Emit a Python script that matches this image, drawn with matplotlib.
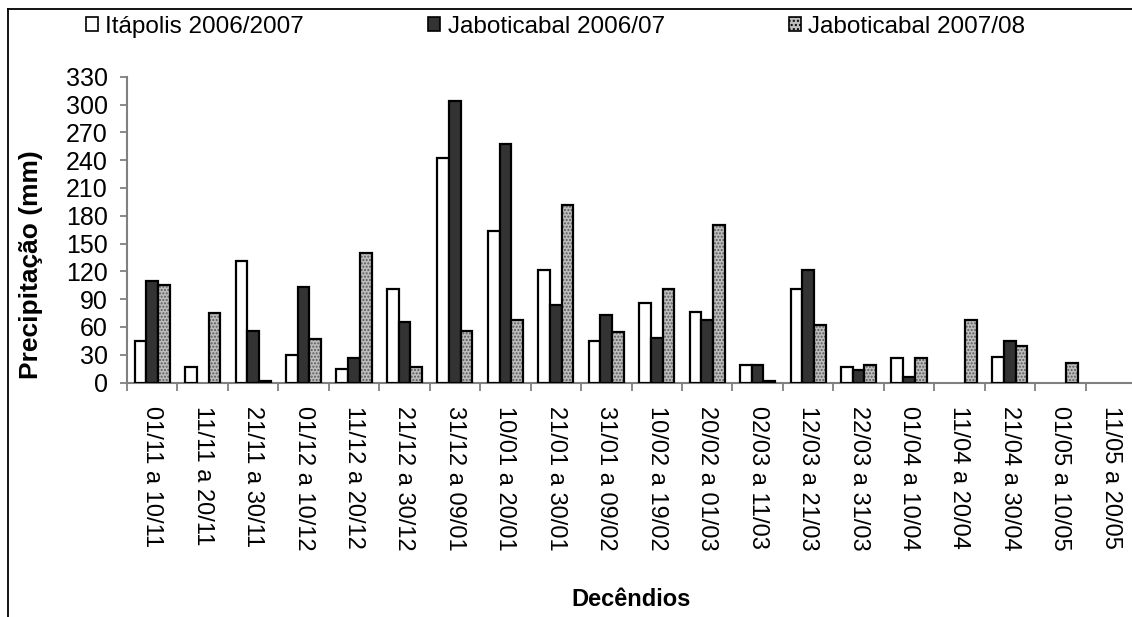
import matplotlib.pyplot as plt
import matplotlib.patches as mpatches
from matplotlib.lines import Line2D
import numpy as np

plt.rcParams['font.family'] = ['Liberation Sans', 'DejaVu Sans']

# decêndios (períodos de 10 dias)
decendios = ["01/11 a 10/11", "11/11 a 20/11", "21/11 a 30/11", "01/12 a 10/12",
             "11/12 a 20/12", "21/12 a 30/12", "31/12 a 09/01", "10/01 a 20/01",
             "21/01 a 30/01", "31/01 a 09/02", "10/02 a 19/02", "20/02 a 01/03",
             "02/03 a 11/03", "12/03 a 21/03", "22/03 a 31/03", "01/04 a 10/04",
             "11/04 a 20/04", "21/04 a 30/04", "01/05 a 10/05", "11/05 a 20/05"]

# precipitação (mm); 0 = sem registro
itapolis_0607 = [45, 17, 131, 30, 15, 101, 242, 164, 121, 45,
                 86, 76, 19, 101, 17, 26, 0, 28, 0, 0]
jabot_0607 = [110, 0, 56, 103, 26, 65, 304, 257, 84, 73,
              48, 67, 19, 121, 13, 6, 0, 45, 0, 0]
jabot_0708 = [105, 75, 2, 47, 140, 17, 56, 67, 192, 54,
              101, 170, 2, 62, 19, 26, 67, 39, 21, 0]

x = np.arange(len(decendios))
w = 0.232


def com_valor(serie):
    v = np.array(serie, dtype=float)
    ok = v > 0
    return x[ok], v[ok]


fig = plt.figure(figsize=(11.32, 6.17), dpi=100)
ax = fig.add_axes([127 / 1132, 1 - 382.5 / 617, (1136 - 127) / 1132, (382.5 - 76.7) / 617])

xi, vi = com_valor(itapolis_0607)
ax.bar(xi - w, vi, w, color='white', edgecolor='black', linewidth=1.6, zorder=3)
xj, vj = com_valor(jabot_0607)
ax.bar(xj, vj, w, color='#333333', edgecolor='black', linewidth=1.6, zorder=3)
# barras pontilhadas: primeiro o padrão, depois o contorno preto
xk, vk = com_valor(jabot_0708)
ax.bar(xk + w, vk, w, color='#bdbdbd', edgecolor='#5a5a5a', hatch='.....',
       linewidth=0, zorder=3)
ax.bar(xk + w, vk, w, fill=False, edgecolor='black', linewidth=1.6, zorder=4)

ax.set_xlim(-0.5, len(decendios) - 0.5)
ax.set_ylim(0, 330)
ax.set_yticks(np.arange(0, 331, 30))
ax.set_xticks(x)
ax.set_xticklabels(decendios, rotation=-90, va='top', ha='center')
ax.set_xticks(np.arange(-0.5, len(decendios), 1), minor=True)

for s in ['top', 'right']:
    ax.spines[s].set_visible(False)
for s in ['left', 'bottom']:
    ax.spines[s].set_color('#808080')
    ax.spines[s].set_linewidth(1.5)

ax.tick_params(axis='y', labelsize=18, length=5, width=1.3, color='#808080', pad=9)
ax.tick_params(axis='x', which='major', labelsize=17, length=0, pad=17)
ax.tick_params(axis='x', which='minor', length=6, width=1.3, color='#808080')

fig.text(31 / 1132, 1 - 265 / 617, 'Precipitação (mm)', rotation=90, fontsize=19,
         fontweight='bold', ha='center', va='center')
fig.text(631 / 1132, 1 - 599 / 617, 'Decêndios', fontsize=17, fontweight='bold',
         ha='center', va='center')

handles = [mpatches.Patch(facecolor='white', edgecolor='black', linewidth=1.2),
           mpatches.Patch(facecolor='#333333', edgecolor='black', linewidth=1.2),
           mpatches.Patch(facecolor='#bdbdbd', edgecolor='black', hatch='....', linewidth=1.2)]
labels = ['Itápolis 2006/2007', 'Jaboticabal 2006/07', 'Jaboticabal 2007/08']
fig.legend(handles, labels, ncol=3, frameon=False, fontsize=17.5,
           loc='center left', bbox_to_anchor=(86 / 1132, 1 - 27 / 617),
           handlelength=0.5, handleheight=0.5, handletextpad=0.3,
           columnspacing=5.1, borderaxespad=0, borderpad=0)

# moldura do gráfico (topo e lado esquerdo)
fig.add_artist(Line2D([8 / 1132, 1], [1 - 9 / 617, 1 - 9 / 617], color='black', lw=1.3))
fig.add_artist(Line2D([8 / 1132, 8 / 1132], [0, 1 - 9 / 617], color='black', lw=1.3))

fig.savefig('out.png', dpi=100)
